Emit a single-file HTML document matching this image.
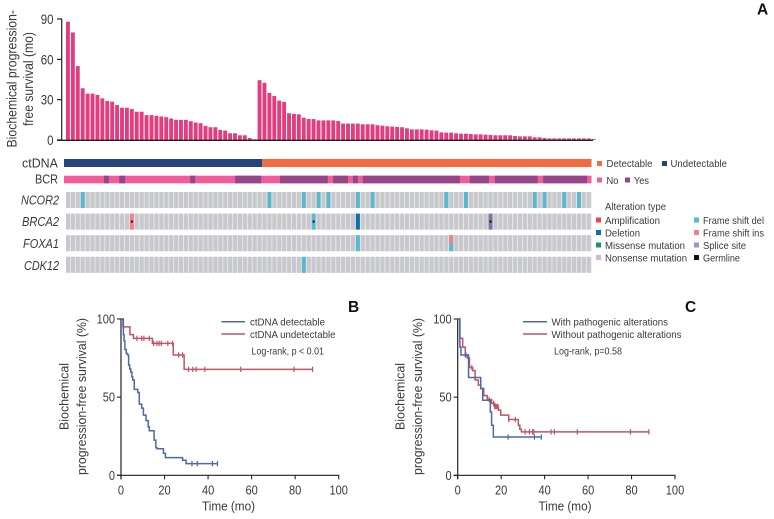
<!DOCTYPE html>
<html lang="en">
<head>
<meta charset="utf-8">
<title>ctDNA oncoplot and survival curves</title>
<style>
html,body{margin:0;padding:0;background:#fff;width:774px;height:519px;overflow:hidden}
svg{display:block;font-family:"Liberation Sans",sans-serif;fill:#3a3a3a}
text{fill:#3a3a3a}
</style>
</head>
<body>
<svg id="fig" width="774" height="519" viewBox="0 0 774 519" xmlns="http://www.w3.org/2000/svg">
<g font-weight="bold" font-size="15.5">
<text x="757" y="14.5" style="fill:#111">A</text>
<text x="348" y="312" style="fill:#111">B</text>
<text x="685" y="312" style="fill:#111">C</text>
</g>
<g font-size="13.5">
<text transform="translate(16.5,147.5) rotate(-90)" textLength="137.5" lengthAdjust="spacingAndGlyphs">Biochemical progression-</text>
<text transform="translate(33,126) rotate(-90)" textLength="94" lengthAdjust="spacingAndGlyphs">free survival (mo)</text>
</g>
<g id="barChart"></g>
<g id="onco"></g>
<g font-size="12.5">
<text x="22" y="167.5" textLength="36" lengthAdjust="spacingAndGlyphs">ctDNA</text>
<text x="35" y="183.5" textLength="23" lengthAdjust="spacingAndGlyphs">BCR</text>
<g font-style="italic">
<text x="21" y="204.5" textLength="38" lengthAdjust="spacingAndGlyphs">NCOR2</text>
<text x="22" y="226" textLength="37" lengthAdjust="spacingAndGlyphs">BRCA2</text>
<text x="23" y="248" textLength="36" lengthAdjust="spacingAndGlyphs">FOXA1</text>
<text x="24" y="270" textLength="35" lengthAdjust="spacingAndGlyphs">CDK12</text>
</g>
</g>
<g font-size="10.5">
<rect x="597" y="161" width="5" height="5" style="fill:#f26a3d"/>
<text x="606.5" y="167" textLength="46" lengthAdjust="spacingAndGlyphs">Detectable</text>
<rect x="662" y="161" width="5" height="5" style="fill:#24457c"/>
<text x="670.5" y="167" textLength="56.5" lengthAdjust="spacingAndGlyphs">Undetectable</text>
<rect x="597" y="177.5" width="5" height="5" style="fill:#f25c9a"/>
<text x="606.5" y="184" textLength="12" lengthAdjust="spacingAndGlyphs">No</text>
<rect x="625" y="177.5" width="5" height="5" style="fill:#944688"/>
<text x="634" y="184" textLength="15" lengthAdjust="spacingAndGlyphs">Yes</text>
<text x="605" y="210" textLength="61" lengthAdjust="spacingAndGlyphs">Alteration type</text>
<rect x="596" y="217.5" width="5" height="5" style="fill:#f2404f"/>
<text x="605" y="224" textLength="55" lengthAdjust="spacingAndGlyphs">Amplification</text>
<rect x="596" y="230" width="5" height="5" style="fill:#0e6ea8"/>
<text x="605" y="236.5" textLength="35" lengthAdjust="spacingAndGlyphs">Deletion</text>
<rect x="596" y="242.5" width="5" height="5" style="fill:#0f9a62"/>
<text x="605" y="249" textLength="80" lengthAdjust="spacingAndGlyphs">Missense mutation</text>
<rect x="596" y="255" width="5" height="5" style="fill:#dcb4d8"/>
<text x="605" y="261.5" textLength="82" lengthAdjust="spacingAndGlyphs">Nonsense mutation</text>
<rect x="694" y="217.5" width="5" height="5" style="fill:#5cb8cc"/>
<text x="703" y="224" textLength="61" lengthAdjust="spacingAndGlyphs">Frame shift del</text>
<rect x="694" y="230" width="5" height="5" style="fill:#f5808c"/>
<text x="703" y="236.5" textLength="61" lengthAdjust="spacingAndGlyphs">Frame shift ins</text>
<rect x="694" y="242.5" width="5" height="5" style="fill:#a78fc0"/>
<text x="703" y="249" textLength="43" lengthAdjust="spacingAndGlyphs">Splice site</text>
<rect x="694" y="255" width="5" height="5" style="fill:#111"/>
<text x="703" y="261.5" textLength="37" lengthAdjust="spacingAndGlyphs">Germline</text>
</g>
<g id="kmB"></g>
<g id="kmC"></g>
<g font-size="12.5">
<text transform="translate(68.5,430) rotate(-90)" textLength="67" lengthAdjust="spacingAndGlyphs">Biochemical</text>
<text transform="translate(86,475) rotate(-90)" textLength="157" lengthAdjust="spacingAndGlyphs">progression-free survival (%)</text>
<text x="202" y="510.5" textLength="53" lengthAdjust="spacingAndGlyphs">Time (mo)</text>
<g font-size="10.5">
<line x1="221.5" x2="245" y1="321.7" y2="321.7" stroke="#4a6aa8" stroke-width="1.5"/>
<line x1="221.5" x2="245" y1="334" y2="334" stroke="#bf5565" stroke-width="1.5"/>
<text x="250" y="325.5" textLength="75" lengthAdjust="spacingAndGlyphs">ctDNA detectable</text>
<text x="250" y="338" textLength="85.5" lengthAdjust="spacingAndGlyphs">ctDNA undetectable</text>
<text x="251.5" y="354.5" textLength="72.5" lengthAdjust="spacingAndGlyphs">Log-rank, p &lt; 0.01</text>
</g>
</g>
<g font-size="12.5">
<text transform="translate(404.5,430) rotate(-90)" textLength="67" lengthAdjust="spacingAndGlyphs">Biochemical</text>
<text transform="translate(422,475) rotate(-90)" textLength="157" lengthAdjust="spacingAndGlyphs">progression-free survival (%)</text>
<text x="538.5" y="510.5" textLength="53" lengthAdjust="spacingAndGlyphs">Time (mo)</text>
<g font-size="10.5">
<line x1="523" x2="547" y1="321.7" y2="321.7" stroke="#4a6aa8" stroke-width="1.5"/>
<line x1="523" x2="547" y1="334" y2="334" stroke="#bf5565" stroke-width="1.5"/>
<text x="551.5" y="325.5" textLength="116.5" lengthAdjust="spacingAndGlyphs">With pathogenic alterations</text>
<text x="551.5" y="338" textLength="130" lengthAdjust="spacingAndGlyphs">Without pathogenic alterations</text>
<text x="554" y="354.5" textLength="68" lengthAdjust="spacingAndGlyphs">Log-rank, p=0.58</text>
</g>
</g>
</svg>
<script>
const barValues = [88,80,55,38.5,34.5,34.5,33.5,31,29,28.5,26,24,24,23,21,21,18.5,18.5,18,17.5,17,16,15,15,15,14,13,12.5,10.5,9.5,9.5,7.5,7,5,5,3.5,3.5,1.5,0.5,
44.5,42.5,35,32.7,29.3,28.3,19.9,19.4,19.1,16.6,15.6,15.6,14.6,14.6,14.6,14.6,14.1,12.2,12.2,12.2,12.2,11.7,11.7,11.7,11,10.7,10.2,10,9.7,9.5,8.7,7.9,7.9,7.9,7.7,7.2,7,5.7,5.5,5.5,5,4.7,4.7,4.5,4.2,4.2,4,3.7,3.5,3.5,3.5,3.5,3,2.7,2.7,2.7,2,2,1.5,1.2,1.2,1.2,1.2,1.2,1.2,1.2,1.2,1.2,0.7];
const barTicks = [0,30,60,90];
const sampleCount = 107;
const undetectableCount = 40;
const bcrYesRanges = [[8.1,9.1],[11.2,12.4],[25.6,26.6],[34.7,40],[43.8,53.5],[54.6,57.6],[58.6,59.6],[60.6,80.3],[82.3,86.2],[87.4,96.1],[97.2,106.1]];
const geneRows = ["NCOR2","BRCA2","FOXA1","CDK12"];
const alterations = [
["NCOR2",3,"del"],["NCOR2",41,"del"],["NCOR2",48,"del"],["NCOR2",51,"del"],["NCOR2",53,"del"],["NCOR2",59,"del"],["NCOR2",62,"del"],["NCOR2",77,"del"],["NCOR2",81,"del"],["NCOR2",95,"del"],["NCOR2",97,"del"],["NCOR2",101,"del"],["NCOR2",104,"del"],
["BRCA2",13,"ins"],["BRCA2",50,"del"],["BRCA2",59,"deletion"],["BRCA2",86,"splice"],
["FOXA1",59,"del"],["FOXA1",78,"del"],
["CDK12",48,"del"]];
const topHalfAlterations = [["FOXA1",78,"ins"]];
const germlineMarks = [["BRCA2",13],["BRCA2",50],["BRCA2",86]];
const kmTicksX = [0,20,40,60,80,100];
const kmTicksY = [0,50,100];
const bBlueT = [0,1.1,1.4,1.8,2.4,3,3.5,4,4.5,5,5.4,6.1,7.7,8.4,9.5,10.3,11.5,12.5,13,15.2,16,16.5,19.5,20.4,28.3,29.9,44.3];
const bBlueS = [100,90,86,80.5,78,77,70.5,68,66,63,61,55,53,45.5,43,38.5,35,31,28.5,22.5,17.7,17,14,11.3,9.6,7.5,7.5];
const bBlueCens = [32.6,35,42,44.3];
const bRedT = [0,0.9,4.1,5.7,14.4,24,29,88];
const bRedS = [100,95,90,87.6,84.4,77,67.8,67.8];
const bRedCens = [7.3,9.5,10.5,13,15,16.5,17.5,18.5,21.5,23.7,26.5,28.3,31,33,34.5,38.5,55,79.5,88];
const cBlueT = [0,1,1.5,5,10.6,11.5,15,15.6,16.4,38.5];
const cBlueS = [100,82,77,62.6,55.5,48,40.6,32,24.5,24.5];
const cBlueCens = [3.5,23.2,35.3,38.5];
const cRedT = [0,1,2.3,3.5,4.5,5.4,6.9,8,9.5,10.6,12,13.6,15.6,17,18.7,19.8,23.5,27.9,28.6,29.3,88];
const cRedS = [100,87.6,82,77,75,69,67,61,57.7,55.5,51,48.5,46,44,41.7,38.5,35.7,32,29.5,27.8,27.8];
const cRedCens = [3.8,6.5,14.5,16.5,17,17.5,18,18.5,23.5,26.5,31,33,34.5,35,43,44.5,55,79.5,88];

const NS = "http://www.w3.org/2000/svg";
function mk(parent, tag, attrs) {
  const el = document.createElementNS(NS, tag);
  for (const k in attrs) el.setAttribute(k, attrs[k]);
  parent.appendChild(el);
  return el;
}

/* bar chart */
const barG = document.getElementById("barChart");
const barY = v => 140 - v * 121 / 90;
const barX = i => 66 + i * 4.913;
barValues.forEach((v, i) => {
  const r = mk(barG, "rect", {x: barX(i), y: barY(v), width: 3.9, height: 140 - barY(v)});
  r.style.fill = "#e33d7f";
  
  
});
const barYAxis = mk(barG, "line", {x1: 61.7, x2: 61.7, y1: barY(90) - .5, y2: 140.5, stroke: "#222", "stroke-width": 1.2});


const barXAxis = mk(barG, "line", {x1: 57, x2: 593, y1: 140.3, y2: 140.3, stroke: "#222", "stroke-width": 1.3});


barTicks.forEach(t => {
  const tick = mk(barG, "line", {x1: 57, x2: 62, y1: barY(t), y2: barY(t), stroke: "#222", "stroke-width": 1.2});
  
  
  const lab = mk(barG, "text", {transform: "translate(53.5," + (barY(t) + 5) + ") scale(.82,1)", "text-anchor": "end", "font-size": 14});
  lab.textContent = t;
  
  
});

/* oncoplot */
const onco = document.getElementById("onco");
const stripX = i => 64 + i * 4.93;
const ctU = mk(onco, "rect", {x: stripX(0), y: 159, width: stripX(undetectableCount) - stripX(0) + 1, height: 8});
ctU.style.fill = "#24457c";


const ctD = mk(onco, "rect", {x: stripX(undetectableCount) + 1, y: 159, width: stripX(sampleCount) - stripX(undetectableCount) - 1, height: 8});
ctD.style.fill = "#f26a3d";


const bcrBase = mk(onco, "rect", {x: stripX(0), y: 175.7, width: stripX(sampleCount) - stripX(0), height: 7.6});
bcrBase.style.fill = "#f25c9a";


bcrYesRanges.forEach(r => {
  const seg = mk(onco, "rect", {x: stripX(r[0]), y: 175.7, width: stripX(r[1]) - stripX(r[0]), height: 7.6});
  seg.style.fill = "#944688";
  
  
});
const cellX = i => 66 + i * 4.913;
const rowTop = g => 192 + geneRows.indexOf(g) * 21.6;
const alterColors = {del: "#5cb8cc", ins: "#f5808c", deletion: "#0e6ea8", splice: "#85709f"};
geneRows.forEach(g => {
  const band = mk(onco, "rect", {x: cellX(0), y: rowTop(g), width: cellX(sampleCount) - cellX(0), height: 16});
  band.style.fill = "#e9e9eb";
  
  
  for (let i = 0; i < sampleCount; i++) {
    const c = mk(onco, "rect", {x: cellX(i), y: rowTop(g), width: 4, height: 16});
    c.style.fill = "#c8c9cc";
    
    
  }
});
alterations.forEach(a => {
  const c = mk(onco, "rect", {x: cellX(a[1]), y: rowTop(a[0]), width: 4, height: 16});
  c.style.fill = alterColors[a[2]];
  
  
});
topHalfAlterations.forEach(a => {
  const c = mk(onco, "rect", {x: cellX(a[1]), y: rowTop(a[0]), width: 4, height: 8});
  c.style.fill = alterColors[a[2]];
  
  
});
germlineMarks.forEach(a => {
  const c = mk(onco, "rect", {x: cellX(a[1]) + 1, y: rowTop(a[0]) + 7, width: 2, height: 2});
  c.style.fill = "#111";
  
  
});

/* Kaplan-Meier plots */
function kmPlot(id, x0, x100, series) {
  const g = document.getElementById(id);
  const X = t => x0 + t * (x100 - x0) / 100;
  const Y = s => 475.3 - s * 1.563;
  const yAxis = mk(g, "line", {x1: x0, x2: x0, y1: Y(100) - .5, y2: Y(0) + 4, stroke: "#222", "stroke-width": 1.2});
  
  
  const xAxis = mk(g, "line", {x1: x0 - 4, x2: x100 + .5, y1: Y(0), y2: Y(0), stroke: "#222", "stroke-width": 1.2});
  
  
  kmTicksX.forEach(t => {
    const tick = mk(g, "line", {x1: X(t), x2: X(t), y1: Y(0), y2: Y(0) + 4, stroke: "#222", "stroke-width": 1.1});
    
    
    const lab = mk(g, "text", {transform: "translate(" + X(t) + ",494.5) scale(.85,1)", "text-anchor": "middle", "font-size": 13});
    lab.textContent = t;
    
    
  });
  kmTicksY.forEach(s => {
    const tick = mk(g, "line", {x1: x0 - 4, x2: x0, y1: Y(s), y2: Y(s), stroke: "#222", "stroke-width": 1.1});
    
    
    const lab = mk(g, "text", {transform: "translate(" + (x0 - 6) + "," + (Y(s) + 4.5) + ") scale(.85,1)", "text-anchor": "end", "font-size": 13});
    lab.textContent = s;
    
    
  });
  series.forEach(sr => {
    let d = "M" + X(sr.t[0]) + " " + Y(sr.s[0]);
    for (let i = 1; i < sr.t.length; i++) {
      d += "H" + X(sr.t[i]) + "V" + Y(sr.s[i]);
    }
    const p = mk(g, "path", {d: d, fill: "none", stroke: sr.color, "stroke-width": 1.5});
    p.style.fill = "none";
    
    
    sr.cens.forEach(c => {
      let v = sr.s[0];
      for (let i = 0; i < sr.t.length; i++) if (sr.t[i] <= c) v = sr.s[i];
      const m = mk(g, "line", {x1: X(c), x2: X(c), y1: Y(v) - 2.7, y2: Y(v) + 2.7, stroke: sr.color, "stroke-width": 1.2});
      
      
    });
  });
}
kmPlot("kmB", 121, 338.7, [
  {t: bRedT, s: bRedS, cens: bRedCens, color: "#bf5565"},
  {t: bBlueT, s: bBlueS, cens: bBlueCens, color: "#4a6aa8"}
]);
kmPlot("kmC", 457.7, 675, [
  {t: cRedT, s: cRedS, cens: cRedCens, color: "#bf5565"},
  {t: cBlueT, s: cBlueS, cens: cBlueCens, color: "#4a6aa8"}
]);
</script>
</body>
</html>
